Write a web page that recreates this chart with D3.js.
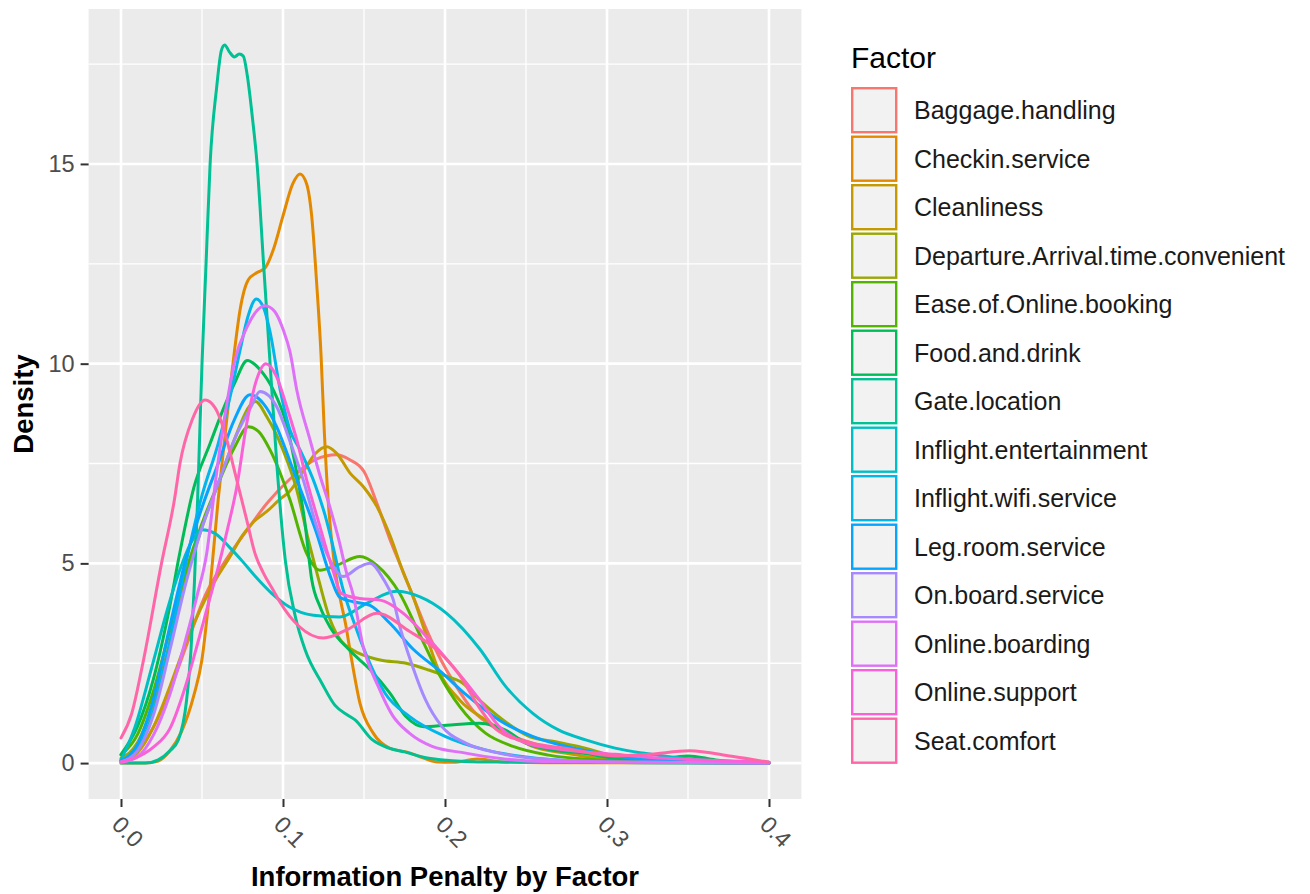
<!DOCTYPE html>
<html>
<head>
<meta charset="utf-8">
<script src="https://cdn.jsdelivr.net/npm/d3@7"></script>
<style>
  body { margin: 0; background: #fff; }
  svg { display: block; font-family: "Liberation Sans", Arial, Helvetica, sans-serif; }
</style>
</head>
<body>
<svg id="chart" width="1310" height="894"></svg>
<script>
// density curves, [penalty, density]
const baggageHandling = [[0,0.08],[0.01,0.3],[0.02,0.9],[0.03,1.8],[0.04,2.9],[0.052,4.2],[0.065,5.1],[0.079,5.9],[0.09,6.5],[0.104,7.1],[0.12,7.6],[0.133,7.72],[0.141,7.6],[0.15,7.3],[0.158,6.5],[0.166,5.6],[0.172,5.0],[0.18,4.2],[0.188,3.4],[0.196,2.7],[0.207,1.92],[0.217,1.33],[0.233,0.83],[0.254,0.5],[0.285,0.25],[0.316,0.12],[0.35,0.05],[0.4,0.02]];
const checkinService = [[0,0],[0.015,0],[0.023,0.05],[0.03,0.3],[0.0375,0.8],[0.045,1.7],[0.05,2.6],[0.055,4.4],[0.06,6.6],[0.065,8.5],[0.07,10.3],[0.0735,11.35],[0.0786,12.1],[0.084,12.28],[0.089,12.4],[0.094,12.85],[0.1,13.7],[0.106,14.5],[0.1105,14.75],[0.1146,14.5],[0.1177,13.7],[0.1208,12.0],[0.1235,10.2],[0.1255,8.3],[0.128,6.5],[0.132,4.9],[0.139,3.4],[0.1424,2.58],[0.1475,1.5],[0.1557,0.75],[0.166,0.37],[0.176,0.28],[0.1846,0.16],[0.195,0.03],[0.205,0.02],[0.22,0.1],[0.235,0.03],[0.26,0.01],[0.4,0]];
const cleanliness = [[0,0.05],[0.01,0.25],[0.02,0.9],[0.03,1.9],[0.04,3.0],[0.052,4.1],[0.06,4.7],[0.067,5.15],[0.075,5.7],[0.082,6.05],[0.09,6.3],[0.098,6.6],[0.104,6.8],[0.1125,7.3],[0.12,7.75],[0.127,7.92],[0.133,7.76],[0.1414,7.26],[0.15,6.9],[0.158,6.42],[0.166,5.7],[0.174,4.8],[0.18,4.2],[0.188,3.25],[0.196,2.33],[0.209,1.58],[0.225,1.08],[0.242,0.67],[0.254,0.42],[0.274,0.25],[0.295,0.12],[0.32,0.04],[0.4,0]];
const departureArrival = [[0,0.12],[0.01,0.5],[0.02,1.5],[0.03,3.0],[0.04,4.6],[0.05,5.9],[0.06,7.0],[0.07,8.1],[0.0796,8.95],[0.083,9.05],[0.09,8.67],[0.1,7.84],[0.1085,6.84],[0.1157,5.58],[0.121,4.75],[0.129,3.6],[0.136,3.05],[0.143,2.83],[0.16,2.58],[0.176,2.5],[0.19,2.33],[0.199,2.2],[0.211,2.0],[0.222,1.55],[0.232,1.2],[0.2525,0.66],[0.269,0.53],[0.283,0.41],[0.3,0.22],[0.314,0.1],[0.33,0.05],[0.36,0.02],[0.4,0]];
const easeOnlineBooking = [[0,0.2],[0.01,0.7],[0.02,1.8],[0.03,3.3],[0.04,4.8],[0.05,6.0],[0.06,7.0],[0.07,7.9],[0.0786,8.42],[0.085,8.3],[0.092,7.84],[0.1043,6.59],[0.1146,5.25],[0.1228,4.83],[0.133,4.95],[0.1475,5.17],[0.158,4.95],[0.172,4.25],[0.184,3.25],[0.196,2.25],[0.209,1.42],[0.225,0.75],[0.242,0.42],[0.264,0.2],[0.295,0.08],[0.33,0.02],[0.4,0]];
const foodAndDrink = [[0,0.22],[0.01,0.9],[0.02,2.1],[0.03,3.9],[0.036,5.2],[0.045,6.9],[0.055,8.0],[0.0625,8.8],[0.07,9.5],[0.078,10.08],[0.086,9.84],[0.094,9.34],[0.102,8.5],[0.1085,7.26],[0.1136,6.0],[0.1177,4.6],[0.123,3.9],[0.129,3.41],[0.141,2.83],[0.154,2.33],[0.166,1.75],[0.176,1.16],[0.187,0.91],[0.201,0.95],[0.2216,1.0],[0.237,0.83],[0.25,0.5],[0.266,0.33],[0.285,0.25],[0.305,0.12],[0.326,0.08],[0.35,0.18],[0.367,0.08],[0.4,0]];
const gateLocation = [[0,0],[0.015,0],[0.023,0.08],[0.03,0.3],[0.0354,0.58],[0.0405,1.58],[0.0432,2.83],[0.0453,4.5],[0.0473,6.6],[0.05,10],[0.0525,12.5],[0.055,15],[0.059,16.9],[0.062,17.85],[0.064,17.98],[0.067,17.8],[0.07,17.68],[0.073,17.75],[0.0755,17.7],[0.078,17.2],[0.081,16.2],[0.084,15.0],[0.088,12.5],[0.0922,9.9],[0.0963,7.42],[0.1014,5.08],[0.1076,3.67],[0.1137,2.83],[0.124,2.0],[0.132,1.45],[0.14,1.2],[0.1445,1.08],[0.1547,0.6],[0.165,0.38],[0.175,0.28],[0.19,0.12],[0.22,0.03],[0.4,0]];
const inflightEntertainment = [[0,0.08],[0.0086,0.9],[0.019,2.4],[0.029,3.9],[0.036,4.8],[0.043,5.5],[0.0502,5.84],[0.058,5.75],[0.0666,5.42],[0.075,5.05],[0.083,4.67],[0.093,4.25],[0.1035,3.92],[0.1187,3.7],[0.135,3.66],[0.1516,4.0],[0.17,4.3],[0.1846,4.16],[0.201,3.75],[0.2216,2.85],[0.2374,1.92],[0.254,1.25],[0.27,0.83],[0.2868,0.58],[0.305,0.375],[0.322,0.25],[0.336,0.17],[0.357,0.08],[0.4,0.02]];
const inflightWifi = [[0,0.05],[0.01,0.35],[0.02,1.3],[0.03,3.0],[0.04,5.0],[0.05,6.7],[0.06,8.0],[0.0675,9.2],[0.0735,10.34],[0.0785,11.2],[0.0835,11.62],[0.088,11.4],[0.092,10.8],[0.098,9.4],[0.1043,8.34],[0.1105,7.84],[0.12,6.95],[0.126,6.2],[0.131,5.4],[0.1366,4.42],[0.144,3.5],[0.151,2.75],[0.163,1.75],[0.178,1.17],[0.2,0.67],[0.225,0.33],[0.25,0.15],[0.28,0.05],[0.32,0.01],[0.4,0]];
const legRoomService = [[0,0.05],[0.01,0.45],[0.02,1.6],[0.03,3.4],[0.04,5.1],[0.05,6.4],[0.06,7.5],[0.07,8.6],[0.0796,9.22],[0.0879,9.0],[0.0961,8.42],[0.104,7.59],[0.1125,6.67],[0.1208,5.75],[0.129,4.7],[0.135,4.15],[0.1434,4.04],[0.1537,3.95],[0.166,3.5],[0.1804,2.85],[0.197,2.3],[0.2134,1.7],[0.2333,1.08],[0.254,0.67],[0.2745,0.42],[0.295,0.25],[0.32,0.1],[0.35,0.04],[0.4,0.01]];
const onBoardService = [[0,0.03],[0.01,0.3],[0.02,1.2],[0.03,2.8],[0.04,4.5],[0.05,5.9],[0.06,7.0],[0.07,8.1],[0.08,8.9],[0.0858,9.3],[0.0961,8.92],[0.104,8.09],[0.1125,7.09],[0.1208,5.92],[0.129,5.08],[0.137,4.67],[0.1475,4.92],[0.1537,5.0],[0.162,4.6],[0.168,4.1],[0.1716,3.5],[0.18,2.42],[0.188,1.58],[0.198,0.92],[0.2128,0.5],[0.2333,0.25],[0.254,0.12],[0.3,0.03],[0.4,0]];
const onlineBoarding = [[0,0.02],[0.01,0.15],[0.02,0.7],[0.03,1.7],[0.04,3.1],[0.047,4.2],[0.0529,5.25],[0.059,7.26],[0.065,8.92],[0.0704,10.1],[0.0776,10.9],[0.0889,11.45],[0.095,11.3],[0.1002,10.84],[0.1043,10.3],[0.1085,9.34],[0.1167,8.09],[0.1228,7.2],[0.129,6.4],[0.135,5.5],[0.139,4.8],[0.1434,4.2],[0.149,3.0],[0.159,1.9],[0.1675,1.2],[0.178,0.75],[0.192,0.42],[0.2128,0.25],[0.233,0.12],[0.26,0.04],[0.4,0]];
const onlineSupport = [[0,0.03],[0.01,0.15],[0.02,0.4],[0.03,0.85],[0.04,1.95],[0.048,3.1],[0.054,4.0],[0.06,4.9],[0.066,5.9],[0.0714,6.9],[0.0776,8.5],[0.0837,9.6],[0.0895,10.0],[0.0961,9.67],[0.1023,8.92],[0.1085,8.09],[0.1146,7.09],[0.1228,5.92],[0.131,4.8],[0.136,4.25],[0.1475,4.12],[0.16,4.08],[0.1743,3.75],[0.1887,3.16],[0.205,2.41],[0.221,1.6],[0.2333,0.92],[0.25,0.5],[0.2745,0.33],[0.305,0.22],[0.336,0.12],[0.377,0.05],[0.4,0.02]];
const seatComfort = [[0,0.63],[0.0066,1.24],[0.0135,2.5],[0.025,5.0],[0.033,6.6],[0.0364,7.5],[0.044,8.6],[0.0519,9.09],[0.058,8.9],[0.063,8.42],[0.0704,7.26],[0.0776,6.09],[0.0827,5.25],[0.088,4.75],[0.094,4.33],[0.098,4.04],[0.11,3.42],[0.125,3.13],[0.14,3.35],[0.158,3.75],[0.178,3.3],[0.196,2.8],[0.209,2.2],[0.221,1.4],[0.233,0.8],[0.254,0.5],[0.274,0.37],[0.305,0.18],[0.326,0.22],[0.351,0.31],[0.377,0.17],[0.4,0.02]];

const factors = ["Baggage.handling", "Checkin.service", "Cleanliness", "Departure.Arrival.time.convenient",
  "Ease.of.Online.booking", "Food.and.drink", "Gate.location", "Inflight.entertainment",
  "Inflight.wifi.service", "Leg.room.service", "On.board.service", "Online.boarding",
  "Online.support", "Seat.comfort"];
const curves = [baggageHandling, checkinService, cleanliness, departureArrival, easeOnlineBooking,
  foodAndDrink, gateLocation, inflightEntertainment, inflightWifi, legRoomService,
  onBoardService, onlineBoarding, onlineSupport, seatComfort];
const xTicks = [0, 0.1, 0.2, 0.3, 0.4];
const xMinor = [0.05, 0.15, 0.25, 0.35];
const yTicks = [0, 5, 10, 15];
const yMinor = [2.5, 7.5, 12.5, 17.5];

// ggplot's default hue palette for 14 levels
const palette = ["#F8766D", "#E38900", "#C49A00", "#99A800", "#53B400", "#00BC56", "#00C094",
  "#00BFC4", "#00B6EB", "#06A4FF", "#A58AFF", "#DF70F8", "#FB61D7", "#FF66A8"];

const series = factors.map((name, i) => ({ name: name, values: curves[i] }));

const svg = d3.select("#chart");

const xMax = d3.max(series, s => d3.max(s.values, d => d[0]));
const yMax = d3.max(series, s => d3.max(s.values, d => d[1]));

const x = d3.scaleLinear()
    .domain([-xMax * 0.05, xMax * 1.05])
    .range([88.6, 801.4]);
const y = d3.scaleLinear()
    .domain([-yMax * 0.05, yMax * 1.05])
    .range([799, 9]);

const color = d3.scaleOrdinal().domain(factors).range(palette);

// panel
svg.append("rect")
    .attr("x", x.range()[0])
    .attr("y", y.range()[1])
    .attr("width", x.range()[1] - x.range()[0])
    .attr("height", y.range()[0] - y.range()[1])
    .attr("fill", "#EBEBEB");

var grid = svg.append("g").attr("stroke", "#fff");

grid.selectAll("line.xminor").data(xMinor).enter().append("line")
    .attr("x1", d => x(d)).attr("x2", d => x(d))
    .attr("y1", y.range()[0]).attr("y2", y.range()[1])
    .attr("stroke-width", 1.3);
grid.selectAll("line.yminor").data(yMinor).enter().append("line")
    .attr("y1", d => y(d)).attr("y2", d => y(d))
    .attr("x1", x.range()[0]).attr("x2", x.range()[1])
    .attr("stroke-width", 1.3);
grid.selectAll("line.xmajor").data(xTicks).enter().append("line")
    .attr("x1", d => x(d)).attr("x2", d => x(d))
    .attr("y1", y.range()[0]).attr("y2", y.range()[1])
    .attr("stroke-width", 2.6);
grid.selectAll("line.ymajor").data(yTicks).enter().append("line")
    .attr("y1", d => y(d)).attr("y2", d => y(d))
    .attr("x1", x.range()[0]).attr("x2", x.range()[1])
    .attr("stroke-width", 2.6);

// density lines
var line = d3.line()
    .x(d => x(d[0]))
    .y(d => y(d[1]))
    .curve(d3.curveMonotoneX);

svg.append("g")
    .attr("fill", "none")
    .attr("stroke-width", 3)
    .attr("stroke-linejoin", "round")
    .attr("stroke-linecap", "round")
    .selectAll("path")
    .data(series)
    .enter().append("path")
    .attr("stroke", d => color(d.name))
    .attr("d", d => line(d.values));

// axes
var xAxis = svg.append("g")
    .attr("transform", "translate(0," + y.range()[0] + ")")
    .call(d3.axisBottom(x).tickValues(xTicks).tickSize(8).tickFormat(d3.format(".1f")));
xAxis.select(".domain").remove();
xAxis.selectAll(".tick line").attr("stroke", "#333").attr("stroke-width", 2);
xAxis.selectAll(".tick text")
    .attr("fill", "#4D4D4D")
    .style("font-size", "23.5px")
    .attr("text-anchor", "start")
    .attr("y", 0).attr("dy", 0)
    .attr("transform", "translate(-11,27) rotate(45)");

var yAxis = svg.append("g")
    .attr("transform", "translate(" + x.range()[0] + ",0)")
    .call(d3.axisLeft(y).tickValues(yTicks).tickSize(8).tickPadding(6));
yAxis.select(".domain").remove();
yAxis.selectAll(".tick line").attr("stroke", "#333").attr("stroke-width", 2);
yAxis.selectAll(".tick text")
    .attr("fill", "#4D4D4D")
    .style("font-size", "23.5px");

svg.append("text")
    .attr("x", (x.range()[0] + x.range()[1]) / 2)
    .attr("y", 886)
    .attr("text-anchor", "middle")
    .style("font-size", "27.5px")
    .style("font-weight", "bold")
    .text("Information Penalty by Factor");

svg.append("text")
    .attr("transform", "translate(33," + (y.range()[0] + y.range()[1]) / 2 + ") rotate(-90)")
    .attr("text-anchor", "middle")
    .style("font-size", "27.5px")
    .style("font-weight", "bold")
    .text("Density");

// legend
var legend = svg.append("g").attr("transform", "translate(851,0)");

legend.append("text")
    .attr("x", 0).attr("y", 68)
    .style("font-size", "30px")
    .text("Factor");

var key = legend.selectAll("g.key")
    .data(factors)
    .enter().append("g")
    .attr("transform", (d, i) => "translate(0," + (87 + i * 48.5) + ")");

key.append("rect")
    .attr("x", 1.2).attr("y", 1.2)
    .attr("width", 44).attr("height", 44)
    .attr("fill", "#F2F2F2")
    .attr("stroke", d => color(d))
    .attr("stroke-width", 2.4);

key.append("text")
    .attr("x", 63).attr("y", 23.5)
    .attr("dy", "0.35em")
    .style("font-size", "25px")
    .attr("fill", "#1A1A1A")
    .text(d => d);
</script>
</body>
</html>
